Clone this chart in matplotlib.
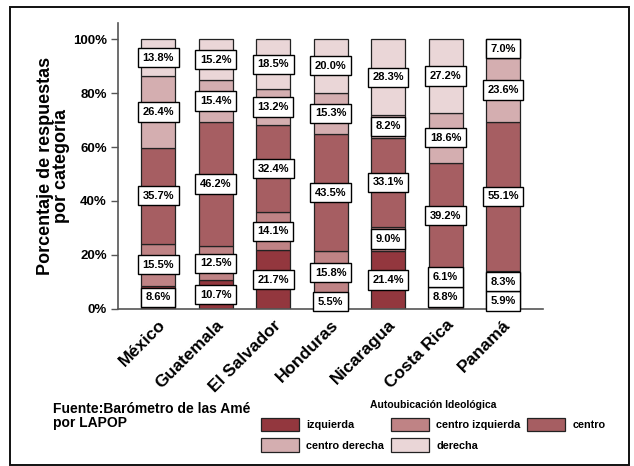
import matplotlib
matplotlib.use("Agg")
import matplotlib.pyplot as plt
from matplotlib.patches import Rectangle

plt.rcParams['font.family'] = ['Liberation Sans', 'DejaVu Sans']
plt.rcParams['font.weight'] = 'bold'

countries = ['México', 'Guatemala', 'El Salvador', 'Honduras', 'Nicaragua', 'Costa Rica', 'Panamá']
categories = ['izquierda', 'centro izquierda', 'centro', 'centro derecha', 'derecha']
izquierda = [8.6, 10.7, 21.7, 5.5, 21.4, 8.8, 5.9]
centro_izquierda = [15.5, 12.5, 14.1, 15.8, 9.0, 6.1, 8.3]
centro = [35.7, 46.2, 32.4, 43.5, 33.1, 39.2, 55.1]
centro_derecha = [26.4, 15.4, 13.2, 15.3, 8.2, 18.6, 23.6]
derecha = [13.8, 15.2, 18.5, 20.0, 28.3, 27.2, 7.0]
series = [izquierda, centro_izquierda, centro, centro_derecha, derecha]
colors = ['#93373E', '#BF8385', '#A65E62', '#D4AEB0', '#EAD6D7']
yticks = [0, 20, 40, 60, 80, 100]

fig = plt.figure(figsize=(6.34, 4.66), dpi=100)
ax = fig.add_axes([0.186, 0.337, 0.670, 0.614])

x = list(range(len(countries)))
bottom = [0.0] * len(countries)
handles = []
for name, vals, col in zip(categories, series, colors):
    bars = ax.bar(x, vals, width=0.59, bottom=bottom, color=col,
                  edgecolor='#222222', linewidth=0.9, label=name)
    handles.append(bars)
    for xi, b, v in zip(x, bottom, vals):
        ax.text(xi, b + v / 2, f'{v:.1f}%', ha='center', va='center',
                fontsize=8, fontweight='bold',
                bbox=dict(boxstyle='square,pad=0.42', fc='white', ec='black', lw=1.0))
    bottom = [b + v for b, v in zip(bottom, vals)]

ax.set_xlim(-0.70, 6.69)
ax.set_ylim(0, 106)
ax.set_yticks(yticks)
ax.set_yticklabels([f'{t}%' for t in yticks], fontsize=9.5, fontweight='bold')
ax.set_xticks(x)
ax.set_xticklabels(countries, rotation=45, ha='right', rotation_mode='anchor',
                   fontsize=12.5, fontweight='bold')
ax.tick_params(axis='x', length=0, pad=6)
ax.tick_params(axis='y', length=5, width=1, color='#555555', pad=3)
for s in ['top', 'right']:
    ax.spines[s].set_visible(False)
for s in ['left', 'bottom']:
    ax.spines[s].set_color('#555555')
    ax.spines[s].set_linewidth(1.2)
ax.set_ylabel('Porcentaje de respuestas\npor categoría', fontsize=13,
              fontweight='bold', labelpad=2, linespacing=0.95)

order = [0, 3, 1, 4, 2]
fig.legend([handles[i] for i in order], [categories[i] for i in order],
           ncol=3, loc='upper left', bbox_to_anchor=(261 / 634, 1 - 400 / 466),
           frameon=False, title='Autoubicación Ideológica',
           title_fontproperties={'weight': 'bold', 'size': 7.5},
           prop={'weight': 'bold', 'size': 7.8},
           handlelength=3.5, handleheight=1.5, handletextpad=0.7,
           columnspacing=0.6, labelspacing=0.7, borderpad=0, borderaxespad=0)

fig.text(53 / 634, 1 - 402 / 466, 'Fuente:Barómetro de las Amé\npor LAPOP',
         fontsize=10, fontweight='bold', va='top', ha='left', linespacing=1.0)

fig.patches.append(Rectangle((10 / 634, 1 / 466), 619 / 634, 458 / 466,
                             transform=fig.transFigure, fill=False,
                             ec='#111111', lw=1.4))

fig.savefig('out.png', dpi=100)
